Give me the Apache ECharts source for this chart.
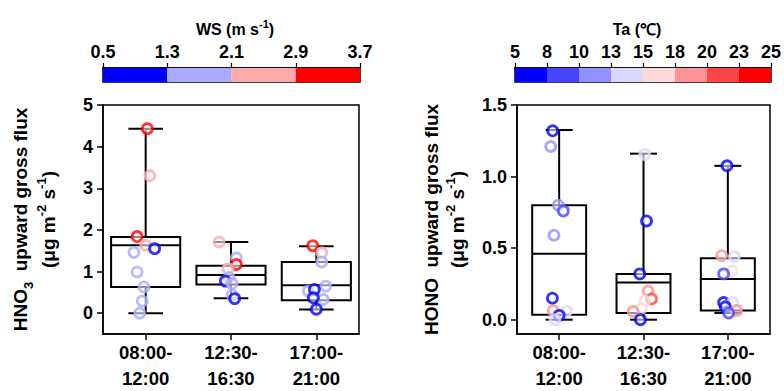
<!DOCTYPE html>
<html><head><meta charset="utf-8">
<script src="https://cdn.jsdelivr.net/npm/echarts@6/dist/echarts.min.js"></script>
<style>html,body{margin:0;padding:0;background:#fff}#c{width:784px;height:391px}</style>
</head><body><div id="c"></div>
<script>
// ---------- data ----------
const periods = ['08:00-\n12:00', '12:30-\n16:30', '17:00-\n21:00'];

const wsTicks = ['0.5', '1.3', '2.1', '2.9', '3.7'];
const wsColors = ['#0000ff', '#aaaaff', '#ffaaaa', '#ff0000'];
const taTicks = ['5', '8', '10', '13', '15', '18', '20', '23', '25'];
const taColors = ['#0000ff', '#4646ff', '#9292ff', '#d8d8ff', '#ffd8d8', '#ff9292', '#ff4646', '#ff0000'];

const hno3Ticks = [0, 1, 2, 3, 4, 5];
const honoTicks = [0, 0.5, 1.0, 1.5];

// box statistics: [min, Q1, median, Q3, max]
const hno3Box = [
  [0.00, 0.63, 1.63, 1.83, 4.43],
  [0.36, 0.69, 0.92, 1.14, 1.71],
  [0.09, 0.31, 0.67, 1.23, 1.61]
];
const honoBox = [
  [0.000, 0.035, 0.46, 0.80, 1.325],
  [0.000, 0.047, 0.26, 0.32, 1.160],
  [0.047, 0.065, 0.284, 0.43, 1.075]
];

// individual points (flux), colour variable and horizontal jitter (category units)
const hno3Flux = [
  [4.43, 3.30, 1.84, 1.63, 1.55, 1.46, 0.99, 0.63, 0.29, 0.00],
  [1.71, 1.33, 1.17, 1.07, 0.85, 0.77, 0.71, 0.44, 0.35],
  [1.62, 1.45, 1.23, 0.65, 0.53, 0.57, 0.33, 0.37, 0.095]
];
const hno3WS = [
  [3.3, 2.5, 3.3, 2.5, 0.9, 1.7, 1.7, 1.7, 1.7, 1.7],
  [2.5, 1.7, 3.3, 2.5, 1.7, 0.9, 1.7, 1.7, 0.9],
  [3.3, 2.5, 1.7, 1.7, 1.7, 0.9, 1.7, 0.9, 0.9]
];
const hno3Jitter = [
  [0.02, 0.05, -0.10, 0.00, 0.105, -0.137, -0.10, -0.02, -0.04, -0.07],
  [-0.14, 0.063, 0.063, -0.035, -0.023, -0.066, 0.012, 0.012, 0.043],
  [-0.042, 0.063, 0.063, 0.11, -0.094, -0.023, 0.082, -0.035, 0.0]
];

const honoFlux = [
  [1.32, 1.21, 0.80, 0.76, 0.59, 0.15, 0.063, 0.06, 0.03, 0.00],
  [1.155, 0.69, 0.32, 0.20, 0.145, 0.13, 0.08, 0.058, 0.00],
  [1.075, 0.447, 0.44, 0.34, 0.32, 0.12, 0.12, 0.09, 0.065, 0.047]
];
const honoTa = [
  [6.5, 11.5, 11.5, 9, 11.5, 6.5, 19, 14, 6.5, 14],
  [14, 6.5, 6.5, 19, 21.5, 16.5, 16.5, 19, 6.5],
  [6.5, 19, 14, 16.5, 9, 6.5, 14, 6.5, 19, 9]
];
const honoJitter = [
  [-0.077, -0.10, -0.01, 0.049, -0.062, -0.08, -0.07, 0.089, 0.0, -0.05],
  [0.015, 0.036, -0.044, 0.055, 0.095, 0.015, -0.024, -0.123, -0.036],
  [-0.01, -0.073, 0.077, 0.05, -0.05, -0.05, 0.057, -0.03, 0.104, 0.01]
];

// ---------- helpers ----------
const FONT = 'Liberation Sans, Arial, Helvetica, sans-serif';

function binColor(v, ticks, colors) {
  const t = ticks.map(Number);
  for (let i = 0; i < colors.length; i++) {
    if (v >= t[i] && v < t[i + 1]) return colors[i];
  }
  return colors[colors.length - 1];
}

function pointData(flux, cvar, jitter, ticks, colors) {
  const out = [];
  flux.forEach((arr, g) => {
    arr.forEach((v, i) => {
      out.push({
        value: [g + jitter[g][i], v],
        itemStyle: { borderColor: binColor(cvar[g][i], ticks, colors) }
      });
    });
  });
  return out;
}

function boxData(box) {
  return box.map((b, g) => [g].concat(b));
}

function boxRender(widthFrac) {
  return function (params, api) {
    const x = api.value(0);
    const lo = api.coord([x, api.value(1)]);
    const q1 = api.coord([x, api.value(2)]);
    const md = api.coord([x, api.value(3)]);
    const q3 = api.coord([x, api.value(4)]);
    const hi = api.coord([x, api.value(5)]);
    const bw = api.size([1, 0])[0] * widthFrac;
    const hw = bw / 2, cw = bw / 4;
    const cx = md[0];
    const st = { stroke: '#000', lineWidth: 2, fill: 'none' };
    return {
      type: 'group',
      children: [
        { type: 'line', shape: { x1: cx, y1: q3[1], x2: cx, y2: hi[1] }, style: st },
        { type: 'line', shape: { x1: cx, y1: q1[1], x2: cx, y2: lo[1] }, style: st },
        { type: 'line', shape: { x1: cx - cw, y1: hi[1], x2: cx + cw, y2: hi[1] }, style: st },
        { type: 'line', shape: { x1: cx - cw, y1: lo[1], x2: cx + cw, y2: lo[1] }, style: st },
        { type: 'rect', shape: { x: cx - hw, y: q3[1], width: bw, height: q1[1] - q3[1] }, style: st },
        { type: 'line', shape: { x1: cx - hw, y1: md[1], x2: cx + hw, y2: md[1] }, style: st }
      ]
    };
  };
}

function barRender(colors) {
  return function (params, api) {
    const a = api.coord([api.value(0), 1]);
    const b = api.coord([api.value(1), 0]);
    return {
      type: 'rect',
      shape: { x: a[0], y: a[1], width: b[0] - a[0], height: b[1] - a[1] },
      style: { fill: colors[api.value(2)], stroke: null }
    };
  };
}

function barData(colors) {
  return colors.map((c, i) => [i, i + 1, i]);
}

function richName(lh) {
  return {
    b: { fontSize: 19, fontWeight: 'bold', fontFamily: FONT, color: '#000', lineHeight: lh },
    s: { fontSize: 13, fontWeight: 'bold', fontFamily: FONT, color: '#000', lineHeight: lh * 0.68, verticalAlign: 'bottom' },
    p: { fontSize: 13, fontWeight: 'bold', fontFamily: FONT, color: '#000', lineHeight: lh * 0.58, verticalAlign: 'top' }
  };
}
const richTitle = {
  b: { fontSize: 16, fontWeight: 'bold', fontFamily: FONT, color: '#000', lineHeight: 22 },
  p: { fontSize: 11, fontWeight: 'bold', fontFamily: FONT, color: '#000', lineHeight: 13, verticalAlign: 'top' }
};

const tickLabel = { color: '#000', fontWeight: 'bold', fontFamily: FONT, fontSize: 18 };

function catAxis(grid) {
  return {
    type: 'category', gridIndex: grid, data: periods, boundaryGap: true,
    axisLine: { show: true, onZero: false, lineStyle: { color: '#000', width: 1.5 } },
    axisTick: { show: true, alignWithLabel: true, length: 6, lineStyle: { color: '#000', width: 1.5 } },
    axisLabel: Object.assign({}, tickLabel, { fontSize: 18.5, lineHeight: 26, margin: 5, interval: 0 }),
    splitLine: { show: false }
  };
}
function hiddenX(grid) {
  return { type: 'value', gridIndex: grid, min: -0.5, max: 2.5, show: false,
    axisLine: { show: false, onZero: false }, splitLine: { show: false } };
}
function cbarAxis(grid, ticks, nameStr, pad) {
  return {
    type: 'value', gridIndex: grid, position: 'top', min: 0, max: ticks.length - 1, interval: 1,
    axisLine: { show: true, onZero: false, lineStyle: { color: '#000', width: 1.5 } },
    axisTick: { show: true, length: 5, lineStyle: { color: '#000', width: 1.2 } },
    axisLabel: Object.assign({}, tickLabel, { margin: 7, formatter: v => ticks[v] }),
    splitLine: { show: false },
    name: nameStr, nameLocation: 'middle', nameGap: 28,
    nameTextStyle: { rich: richTitle, padding: pad }
  };
}

const option = {
  animation: false,
  backgroundColor: '#fff',
  grid: [
    { left: 103, top: 105, width: 256, height: 230, show: true, borderColor: '#000', borderWidth: 1.5, backgroundColor: 'transparent' },
    { left: 517, top: 105, width: 253, height: 230, show: true, borderColor: '#000', borderWidth: 1.5, backgroundColor: 'transparent' },
    { left: 103, top: 68, width: 257, height: 14, show: true, borderColor: '#000', borderWidth: 1.5, backgroundColor: 'transparent' },
    { left: 515, top: 68, width: 257, height: 14, show: true, borderColor: '#000', borderWidth: 1.5, backgroundColor: 'transparent' }
  ],
  xAxis: [
    catAxis(0), hiddenX(0), catAxis(1), hiddenX(1),
    cbarAxis(2, wsTicks, '{b|WS (m s}{p|-1}{b|)}', [0, 0, 0, 7]),
    cbarAxis(3, taTicks, '{b|Ta (℃)}', [0, 12, 0, 0])
  ],
  yAxis: [
    {
      type: 'value', gridIndex: 0, min: -0.5, max: 5,
      axisLine: { show: true, onZero: false, lineStyle: { color: '#000', width: 1.5 } },
      axisTick: { show: true, length: 6, customValues: hno3Ticks, lineStyle: { color: '#000', width: 1.5 } },
      axisLabel: Object.assign({}, tickLabel, { margin: 10, customValues: hno3Ticks }),
      splitLine: { show: false },
      name: '{b|HNO}{s|3}{b|  upward gross flux}\n{b|(μg m}{p|-2}{b| s}{p|-1}{b|)}',
      nameLocation: 'middle', nameGap: 40, nameRotate: 90,
      nameTextStyle: { rich: richName(28.5), align: 'center' }
    },
    {
      type: 'value', gridIndex: 1, min: -0.1, max: 1.5,
      axisLine: { show: true, onZero: false, lineStyle: { color: '#000', width: 1.5 } },
      axisTick: { show: true, length: 6, customValues: honoTicks, lineStyle: { color: '#000', width: 1.5 } },
      axisLabel: Object.assign({}, tickLabel, { margin: 10, customValues: honoTicks, formatter: v => v.toFixed(1) }),
      splitLine: { show: false },
      name: '{b|HONO  upward gross flux}\n{b|(μg m}{p|-2}{b| s}{p|-1}{b|)}',
      nameLocation: 'middle', nameGap: 47, nameRotate: 90,
      nameTextStyle: { rich: richName(26), align: 'center' }
    },
    { type: 'value', gridIndex: 2, min: 0, max: 1, show: false, axisLine: { onZero: false } },
    { type: 'value', gridIndex: 3, min: 0, max: 1, show: false, axisLine: { onZero: false } }
  ],
  series: [
    { type: 'custom', xAxisIndex: 4, yAxisIndex: 2, renderItem: barRender(wsColors), data: barData(wsColors), encode: { x: [0, 1] }, z: 1 },
    { type: 'custom', xAxisIndex: 5, yAxisIndex: 3, renderItem: barRender(taColors), data: barData(taColors), encode: { x: [0, 1] }, z: 1 },
    { type: 'custom', xAxisIndex: 1, yAxisIndex: 0, renderItem: boxRender(0.81), data: boxData(hno3Box), encode: { x: 0, y: [1, 2, 3, 4, 5] }, z: 2 },
    { type: 'custom', xAxisIndex: 3, yAxisIndex: 1, renderItem: boxRender(0.64), data: boxData(honoBox), encode: { x: 0, y: [1, 2, 3, 4, 5] }, z: 2 },
    {
      type: 'scatter', xAxisIndex: 1, yAxisIndex: 0, symbol: 'circle', symbolSize: 10, z: 3,
      itemStyle: { color: 'rgba(255,255,255,0.7)', borderWidth: 2.8 },
      emphasis: { disabled: true },
      data: pointData(hno3Flux, hno3WS, hno3Jitter, wsTicks, wsColors)
    },
    {
      type: 'scatter', xAxisIndex: 3, yAxisIndex: 1, symbol: 'circle', symbolSize: 10, z: 3,
      itemStyle: { color: 'rgba(255,255,255,0.7)', borderWidth: 2.8 },
      emphasis: { disabled: true },
      data: pointData(honoFlux, honoTa, honoJitter, taTicks, taColors)
    }
  ]
};

const chart = echarts.init(document.getElementById('c'), null, { renderer: 'svg', width: 784, height: 391 });
chart.setOption(option);
</script>
</body></html>
